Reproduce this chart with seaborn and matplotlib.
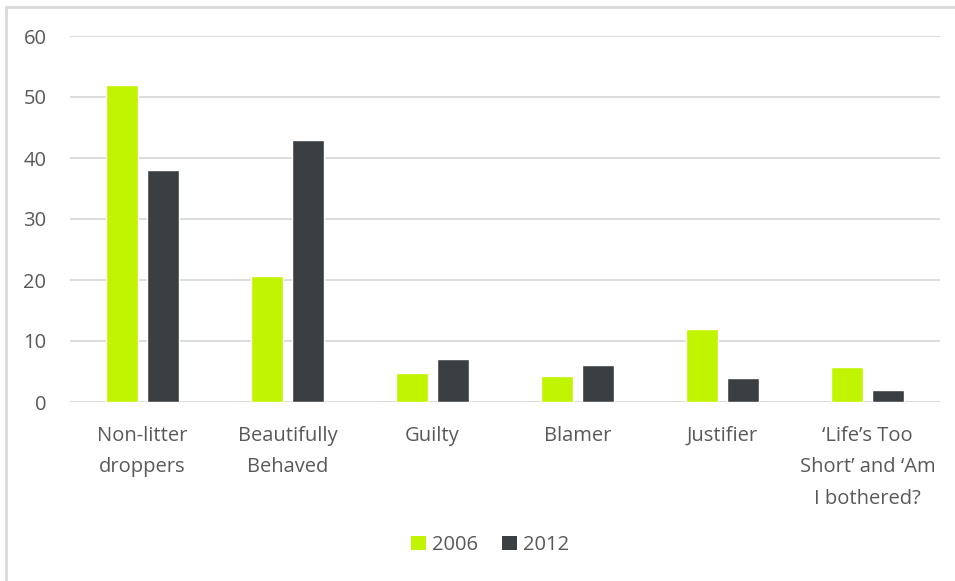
import matplotlib
matplotlib.use("Agg")
import matplotlib.pyplot as plt
from matplotlib.lines import Line2D
from matplotlib.patches import Patch
import seaborn as sns
import pandas as pd

categories = ["Non-litter\ndroppers", "Beautifully\nBehaved", "Guilty", "Blamer",
              "Justifier", "\u2018Life\u2019s Too\nShort\u2019 and \u2018Am\nI bothered?"]
values_2006 = [52, 20.6, 4.8, 4.2, 12, 5.7]
values_2012 = [38, 43, 7, 6, 4, 2]
years = ["2006", "2012"]
yticks = [0, 10, 20, 30, 40, 50, 60]

colors = {"2006": "#C1F400", "2012": "#3B3F42"}
text_color = "#595959"

df = pd.DataFrame({
    "category": categories * 2,
    "value": values_2006 + values_2012,
    "year": [years[0]] * len(categories) + [years[1]] * len(categories),
})

sns.set_theme(style="white")
plt.rcParams["font.family"] = ["Open Sans", "DejaVu Sans"]

fig = plt.figure(figsize=(9.55, 5.81), dpi=100)
ax = fig.add_axes([70 / 955, 1 - 402 / 581, 870 / 955, 366 / 581])

sns.barplot(data=df, x="category", y="value", hue="year", palette=colors,
            width=0.566, gap=0.22, ax=ax, legend=False, saturation=1)

ax.set_ylim(0, 60)
ax.set_xlim(-0.5, len(categories) - 0.5)
ax.set_yticks(yticks)
ax.set_yticklabels([str(t) for t in yticks])
ax.yaxis.grid(True, color="#D9D9D9", linewidth=1.3)
ax.set_axisbelow(True)
for s in ax.spines.values():
    s.set_visible(False)
ax.set_xlabel("")
ax.set_ylabel("")
ax.tick_params(axis="y", length=0, pad=17, labelsize=14.5, labelcolor=text_color)
ax.tick_params(axis="x", length=0, pad=17, labelsize=14.5, labelcolor=text_color)
for lbl in ax.get_xticklabels():
    lbl.set_linespacing(1.78)

handles = [Patch(facecolor=colors[y], edgecolor="none", label=y) for y in years]
fig.legend(handles=handles, loc="center", bbox_to_anchor=(490 / 955, 1 - 545 / 581),
           ncol=2, frameon=False, fontsize=14.5, labelcolor=text_color,
           handlelength=0.75, handleheight=0.75, handletextpad=0.3, columnspacing=1.2)

# outer frame (top and left edges visible)
fig.add_artist(Line2D([6 / 955, 6 / 955], [0, 1 - 7 / 581], color="#D9D9D9", linewidth=2))
fig.add_artist(Line2D([6 / 955, 1], [1 - 7 / 581, 1 - 7 / 581], color="#D9D9D9", linewidth=2))

fig.savefig("out.png", dpi=100)
